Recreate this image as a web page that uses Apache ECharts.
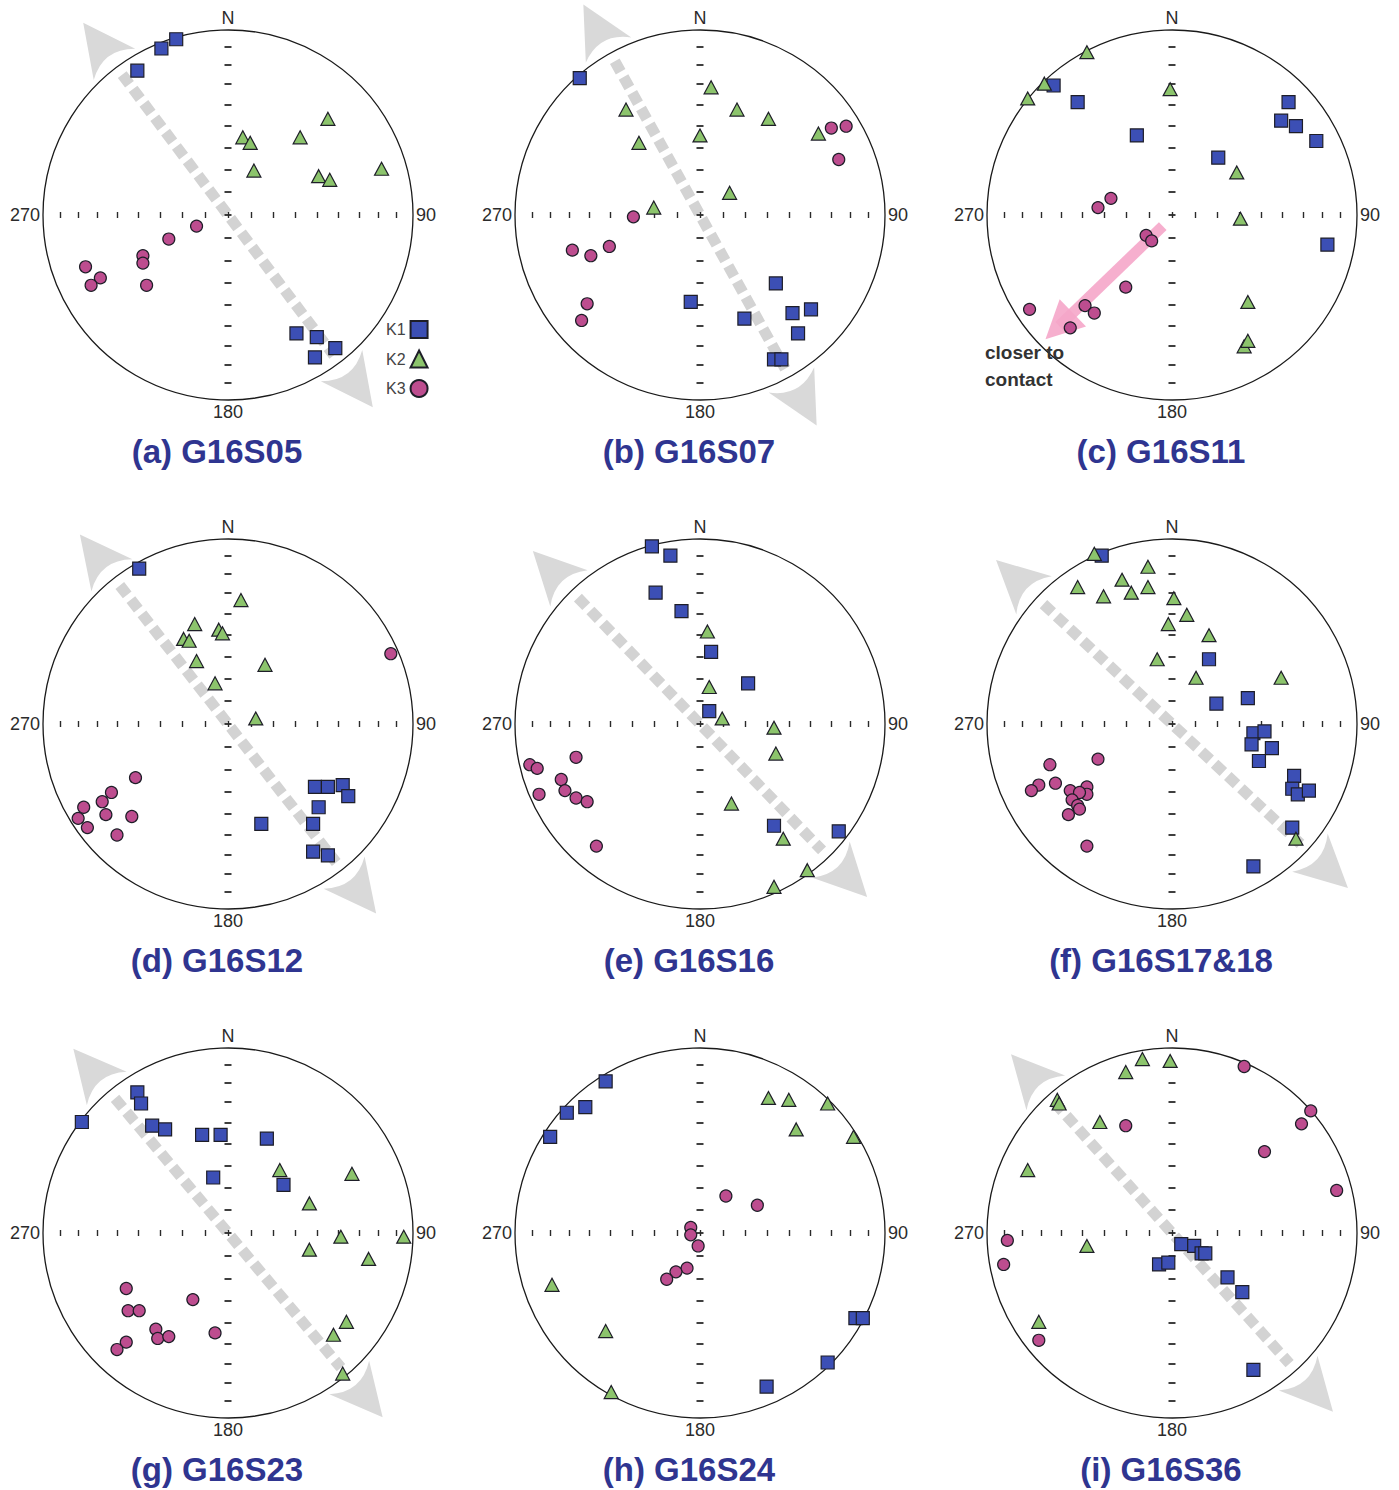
<!DOCTYPE html>
<html>
<head>
<meta charset="utf-8">
<title>AMS fabric stereonets</title>
<script src="https://cdn.jsdelivr.net/npm/echarts@6/dist/echarts.min.js"></script>
<style>
  html, body { margin: 0; padding: 0; background: #ffffff; }
  #chart { width: 1399px; height: 1490px; }
</style>
</head>
<body>
<div id="chart"></div>
<script>
// ---- Panel captions -------------------------------------------------------
const PANEL_TITLES = ['(a) G16S05', '(b) G16S07', '(c) G16S11',
                      '(d) G16S12', '(e) G16S16', '(f) G16S17&18',
                      '(g) G16S23', '(h) G16S24', '(i) G16S36'];

// Compass labels placed round each net (azimuth in degrees -> text)
const COMPASS_LABELS = { 0: 'N', 90: '90', 180: '180', 270: '270' };

// Plunge graduations (degrees) marked along the N-S and E-W diameters
const TICK_PLUNGES = [80, 70, 60, 50, 40, 30, 20, 10];

// Principal susceptibility axes, lower hemisphere, [east, north] in net radii
const K1_A = [[-0.28,0.95],[-0.36,0.90],[-0.49,0.78],[0.37,-0.64],[0.48,-0.66],[0.58,-0.72],[0.47,-0.77]];
const K2_A = [[0.54,0.52],[0.39,0.42],[0.08,0.42],[0.12,0.39],[0.14,0.24],[0.49,0.21],[0.55,0.19],[0.83,0.25]];
const K3_A = [[-0.17,-0.06],[-0.32,-0.13],[-0.46,-0.22],[-0.46,-0.26],[-0.77,-0.28],[-0.69,-0.34],[-0.74,-0.38],[-0.44,-0.38]];

const K1_B = [[-0.65,0.74],[-0.05,-0.47],[0.41,-0.37],[0.24,-0.56],[0.50,-0.53],[0.60,-0.51],[0.53,-0.64],[0.40,-0.78],[0.44,-0.78]];
const K2_B = [[0.06,0.69],[-0.40,0.57],[0.20,0.57],[0.37,0.52],[0.00,0.43],[-0.33,0.39],[0.64,0.44],[0.16,0.12],[-0.25,0.04]];
const K3_B = [[0.71,0.47],[0.79,0.48],[0.75,0.30],[-0.36,-0.01],[-0.69,-0.19],[-0.59,-0.22],[-0.49,-0.17],[-0.61,-0.48],[-0.64,-0.57]];

const K1_C = [[-0.64,0.70],[-0.51,0.61],[-0.19,0.43],[0.63,0.61],[0.59,0.51],[0.67,0.48],[0.78,0.40],[0.25,0.31],[0.84,-0.16]];
const K2_C = [[-0.46,0.88],[-0.69,0.71],[-0.78,0.63],[-0.01,0.68],[0.35,0.23],[0.37,-0.02],[0.41,-0.47],[0.39,-0.71],[0.41,-0.68]];
const K3_C = [[-0.33,0.09],[-0.40,0.04],[-0.14,-0.11],[-0.11,-0.14],[-0.25,-0.39],[-0.47,-0.49],[-0.42,-0.53],[-0.77,-0.51],[-0.55,-0.61]];

const K1_D = [[-0.48,0.84],[0.47,-0.34],[0.54,-0.34],[0.62,-0.33],[0.65,-0.39],[0.49,-0.45],[0.18,-0.54],[0.46,-0.54],[0.46,-0.69],[0.54,-0.71]];
const K2_D = [[0.07,0.67],[-0.18,0.54],[-0.05,0.51],[-0.03,0.49],[-0.24,0.46],[-0.21,0.45],[-0.17,0.34],[0.20,0.32],[-0.07,0.22],[0.15,0.03]];
const K3_D = [[0.88,0.38],[-0.50,-0.29],[-0.63,-0.37],[-0.68,-0.42],[-0.78,-0.45],[-0.81,-0.51],[-0.76,-0.56],[-0.66,-0.49],[-0.52,-0.50],[-0.60,-0.60]];

const K1_E = [[-0.26,0.96],[-0.16,0.91],[-0.24,0.71],[-0.10,0.61],[0.06,0.39],[0.26,0.22],[0.05,0.07],[0.40,-0.55],[0.75,-0.58]];
const K2_E = [[0.04,0.50],[0.05,0.20],[0.12,0.03],[0.40,-0.02],[0.41,-0.16],[0.17,-0.43],[0.45,-0.62],[0.58,-0.79],[0.40,-0.88]];
const K3_E = [[-0.67,-0.18],[-0.92,-0.22],[-0.88,-0.24],[-0.75,-0.30],[-0.73,-0.36],[-0.87,-0.38],[-0.67,-0.40],[-0.61,-0.42],[-0.56,-0.66]];

const K1_F = [[-0.38,0.91],[0.20,0.35],[0.24,0.11],[0.41,0.14],[0.44,-0.05],[0.50,-0.04],[0.43,-0.11],[0.54,-0.13],[0.47,-0.20],[0.66,-0.28],[0.65,-0.35],[0.68,-0.38],[0.74,-0.36],[0.65,-0.56],[0.44,-0.77]];
const K2_F = [[-0.42,0.92],[-0.51,0.74],[-0.13,0.85],[-0.27,0.78],[-0.22,0.71],[-0.13,0.74],[-0.37,0.69],[0.01,0.68],[0.08,0.59],[-0.02,0.54],[0.20,0.48],[-0.08,0.35],[0.13,0.25],[0.59,0.25],[0.67,-0.62]];
const K3_F = [[-0.40,-0.19],[-0.66,-0.22],[-0.72,-0.33],[-0.76,-0.36],[-0.63,-0.32],[-0.55,-0.36],[-0.46,-0.34],[-0.46,-0.38],[-0.50,-0.37],[-0.54,-0.41],[-0.51,-0.44],[-0.50,-0.46],[-0.56,-0.49],[-0.46,-0.66]];

const K1_G = [[-0.79,0.60],[-0.49,0.76],[-0.47,0.70],[-0.41,0.58],[-0.34,0.56],[-0.14,0.53],[-0.04,0.53],[0.21,0.51],[-0.08,0.30],[0.30,0.26]];
const K2_G = [[0.28,0.34],[0.67,0.32],[0.44,0.16],[0.61,-0.02],[0.95,-0.02],[0.44,-0.09],[0.76,-0.14],[0.64,-0.48],[0.57,-0.55],[0.62,-0.76]];
const K3_G = [[-0.55,-0.30],[-0.54,-0.42],[-0.48,-0.42],[-0.19,-0.36],[-0.39,-0.52],[-0.38,-0.57],[-0.32,-0.56],[-0.07,-0.54],[-0.55,-0.59],[-0.60,-0.63]];

const K1_H = [[-0.51,0.82],[-0.62,0.68],[-0.72,0.65],[-0.81,0.52],[0.84,-0.46],[0.88,-0.46],[0.69,-0.70],[0.36,-0.83]];
const K2_H = [[0.37,0.73],[0.48,0.72],[0.69,0.70],[0.52,0.56],[0.83,0.52],[-0.80,-0.28],[-0.51,-0.53],[-0.48,-0.86]];
const K3_H = [[0.14,0.20],[0.31,0.15],[-0.05,0.03],[-0.05,-0.01],[-0.01,-0.07],[-0.07,-0.19],[-0.13,-0.21],[-0.18,-0.25]];

const K1_I = [[0.05,-0.06],[0.12,-0.07],[0.16,-0.11],[0.18,-0.11],[-0.07,-0.17],[-0.02,-0.16],[0.30,-0.24],[0.38,-0.32],[0.44,-0.74]];
const K2_I = [[-0.16,0.94],[-0.01,0.93],[-0.25,0.87],[-0.62,0.72],[-0.61,0.70],[-0.39,0.60],[-0.78,0.34],[-0.46,-0.07],[-0.72,-0.48]];
const K3_I = [[0.39,0.90],[0.75,0.66],[0.70,0.59],[-0.25,0.58],[0.50,0.44],[0.89,0.23],[-0.89,-0.04],[-0.91,-0.17],[-0.72,-0.58]];

// Trend (degrees) of the regional fabric direction drawn as a double arrow; null = none
const FABRIC_TREND = [323, 331, null, 322, 316, 313, 320, null, 318];

// Direction towards the contact in G16S11: [start, head] in net radii
const CONTACT_ARROW = [[-0.05, -0.06], [-0.61, -0.60]];
const CONTACT_NOTE = 'closer to\ncontact';

// ---- Layout and styling ----------------------------------------------------
const COL_X = [228, 700, 1172];
const ROW_Y = [215, 724, 1233];
const R = 185;          // net radius in px
const L = 1.1;          // half extent of the cartesian frame, in net radii
const FONT = '"Liberation Sans", Arial, Helvetica, sans-serif';

const SERIES_STYLE = {
  K1: { symbol: 'rect',     size: 13,       color: '#3c4fb5' },
  K2: { symbol: 'triangle', size: [14, 13], color: '#8cc46c' },
  K3: { symbol: 'circle',   size: 12,       color: '#bd4d8f' }
};
const OUTLINE = '#1e1e28';
const FABRIC_COLOR = '#d3d3d3';
const ARROW_HEAD = 'path://M50,0L100,100Q50,62 0,100Z';
const TRI_HEAD = 'path://M50,0L100,100L0,100Z';

const PANELS = [
  [K1_A, K2_A, K3_A], [K1_B, K2_B, K3_B], [K1_C, K2_C, K3_C],
  [K1_D, K2_D, K3_D], [K1_E, K2_E, K3_E], [K1_F, K2_F, K3_F],
  [K1_G, K2_G, K3_G], [K1_H, K2_H, K3_H], [K1_I, K2_I, K3_I]
];

// Equal-area (Schmidt) radius of a given plunge
const eqArea = p => Math.SQRT2 * Math.sin((90 - p) / 2 * Math.PI / 180);
const TICK_VALUES = [0].concat(
  TICK_PLUNGES.map(eqArea),
  TICK_PLUNGES.map(p => -eqArea(p))
);

const option = {
  animation: false,
  backgroundColor: '#ffffff',
  title: [],
  grid: [],
  xAxis: [],
  yAxis: [],
  polar: [],
  angleAxis: [],
  radiusAxis: [],
  series: [],
  legend: {
    data: [{ name: 'K1', icon: 'rect' }, { name: 'K2', icon: 'triangle' }, { name: 'K3', icon: 'circle' }],
    orient: 'vertical',
    align: 'right',
    left: 386,
    top: 320,
    padding: 0,
    itemWidth: 17,
    itemHeight: 17,
    itemGap: 10.5,
    selectedMode: false,
    textStyle: { fontSize: 16, color: '#444', fontFamily: FONT }
  }
};

const axisCommon = (i, pos, dim) => ({
  gridIndex: i,
  type: 'value',
  min: -L,
  max: L,
  position: pos,
  z: 3,
  axisLine: { show: false, onZero: true },
  axisTick: {
    show: true,
    inside: true,
    length: dim === 'x' ? 3 : 3.5,
    customValues: TICK_VALUES,
    lineStyle: { color: '#2a2a2a', width: dim === 'x' ? 1.4 : 1.8 }
  },
  axisLabel: { show: false },
  splitLine: { show: false }
});

PANELS.forEach((sets, i) => {
  const cx = COL_X[i % 3];
  const cy = ROW_Y[Math.floor(i / 3)];

  option.title.push({
    text: PANEL_TITLES[i],
    left: cx - 11,
    top: cy + 236,
    padding: 0,
    textAlign: 'center',
    textVerticalAlign: 'middle',
    textStyle: { fontSize: 33, fontWeight: 'bold', color: '#2f3590', fontFamily: FONT }
  });

  option.grid.push({ left: cx - L * R, top: cy - L * R, width: 2 * L * R, height: 2 * L * R });
  option.xAxis.push(axisCommon(i, 'bottom', 'x'), axisCommon(i, 'top', 'x'));
  option.yAxis.push(axisCommon(i, 'left', 'y'), axisCommon(i, 'right', 'y'));

  option.polar.push({ center: [cx, cy], radius: R });
  option.angleAxis.push({
    polarIndex: i,
    type: 'value',
    min: 0,
    max: 360,
    interval: 90,
    startAngle: 90,
    clockwise: true,
    z: 2,
    axisLine: { show: true, lineStyle: { color: '#1a1a1a', width: 1.3 } },
    axisTick: { show: false },
    splitLine: { show: false },
    axisLabel: {
      margin: 3,
      fontSize: 18,
      color: '#2b2b2b',
      fontFamily: FONT,
      formatter: v => COMPASS_LABELS[v] !== undefined && v < 360 ? COMPASS_LABELS[v] : ''
    }
  });
  option.radiusAxis.push({ polarIndex: i, type: 'value', min: 0, max: 1, show: false });

  const xi = 2 * i, yi = 2 * i;

  // Regional fabric direction: dashed band with a head at each end
  const trend = FABRIC_TREND[i];
  if (trend !== null) {
    const t = trend * Math.PI / 180, s = Math.sin(t), c = Math.cos(t);
    const at = (r, k) => [k * r * s, k * r * c];
    option.series.push({
      type: 'line',
      name: 'fabric',
      xAxisIndex: xi,
      yAxisIndex: yi,
      z: 1,
      silent: true,
      showSymbol: false,
      symbol: 'none',
      data: [at(0.95, 1), at(0.95, -1)],
      lineStyle: { color: FABRIC_COLOR, width: 11, type: [12, 6], cap: 'butt' },
      markLine: {
        silent: true,
        z: 1,
        animation: false,
        symbol: ['none', ARROW_HEAD],
        symbolSize: 52,
        label: { show: false },
        lineStyle: { color: '#d9d9d9', width: 1, type: 'solid' },
        data: [
          [{ coord: at(1.14, 1) }, { coord: at(1.16, 1) }],
          [{ coord: at(1.14, -1) }, { coord: at(1.16, -1) }]
        ]
      }
    });
  }

  // Arrow towards the intrusive contact (G16S11 only)
  if (i === 2) {
    const [p0, p1] = CONTACT_ARROW;
    const dx = p1[0] - p0[0], dy = p1[1] - p0[1];
    const pre = [p1[0] - dx * 0.05, p1[1] - dy * 0.05];
    option.series.push({
      type: 'line',
      name: 'contact',
      xAxisIndex: xi,
      yAxisIndex: yi,
      z: 1,
      silent: true,
      showSymbol: false,
      symbol: 'none',
      data: [p0, p1],
      lineStyle: { color: '#f5a6c9', width: 11, cap: 'butt', opacity: 0.9 },
      markLine: {
        silent: true,
        z: 1,
        animation: false,
        symbol: ['none', TRI_HEAD],
        symbolSize: 38,
        label: { show: false },
        lineStyle: { color: '#f5a6c9', width: 1, type: 'solid', opacity: 0.9 },
        data: [[{ coord: pre }, { coord: p1 }]]
      }
    });
    option.title.push({
      text: CONTACT_NOTE,
      left: 985,
      top: 339,
      padding: 0,
      textStyle: { fontSize: 19, fontWeight: 'bold', color: '#333', fontFamily: FONT, lineHeight: 27 }
    });
  }

  ['K1', 'K2', 'K3'].forEach((name, k) => {
    const st = SERIES_STYLE[name];
    option.series.push({
      type: 'scatter',
      name: name,
      xAxisIndex: xi,
      yAxisIndex: yi,
      z: 5,
      data: sets[k],
      symbol: st.symbol,
      symbolSize: st.size,
      itemStyle: { color: st.color, borderColor: OUTLINE, borderWidth: 1.2, opacity: 1 }
    });
  });
});

const chart = echarts.init(document.getElementById('chart'), null, { renderer: 'svg' });
chart.setOption(option);
</script>
</body>
</html>
